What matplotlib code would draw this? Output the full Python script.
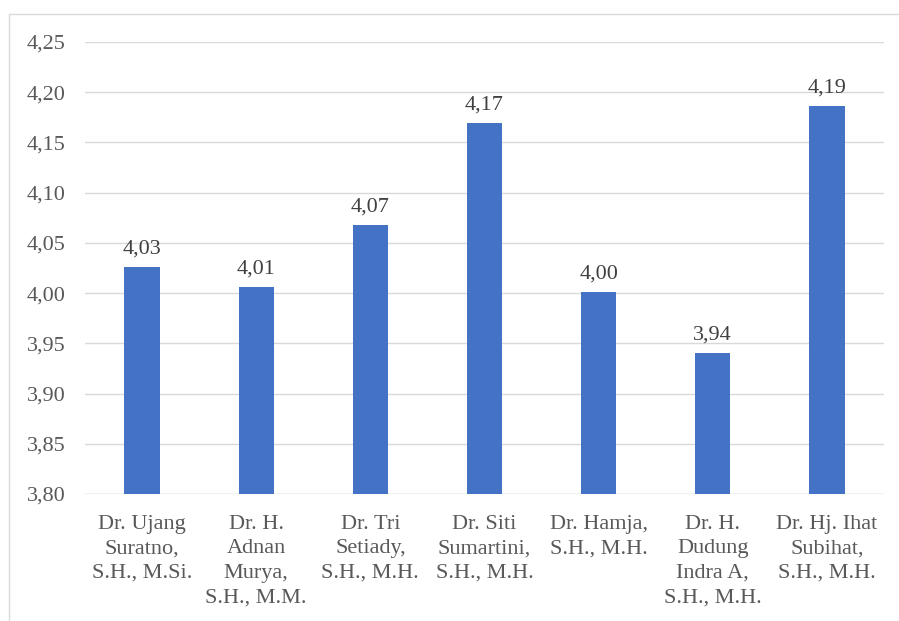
import matplotlib
matplotlib.use("Agg")
import matplotlib.pyplot as plt
from matplotlib.patches import Rectangle
from matplotlib.ticker import FixedLocator, FuncFormatter

# data
names = [
    "Dr. Ujang\nSuratno,\nS.H., M.Si.",
    "Dr. H.\nAdnan\nMurya,\nS.H., M.M.",
    "Dr. Tri\nSetiady,\nS.H., M.H.",
    "Dr. Siti\nSumartini,\nS.H., M.H.",
    "Dr. Hamja,\nS.H., M.H.",
    "Dr. H.\nDudung\nIndra A,\nS.H., M.H.",
    "Dr. Hj. Ihat\nSubihat,\nS.H., M.H.",
]
scores = [4.026, 4.006, 4.068, 4.169, 4.001, 3.940, 4.186]
yticks = [3.80, 3.85, 3.90, 3.95, 4.00, 4.05, 4.10, 4.15, 4.20, 4.25]

plt.rcParams["font.family"] = ["Liberation Serif", "DejaVu Serif"]
txt_col = "#595959"
grid_col = "#d9d9d9"
fs = 16

fig = plt.figure(figsize=(8.99, 6.21), dpi=100)
fig.patches.append(Rectangle((9 / 899, -0.1), 1.2, (621 - 14) / 621 + 0.1,
                             transform=fig.transFigure, fill=False,
                             edgecolor=grid_col, linewidth=1.0))
ax = fig.add_axes([85 / 899, (621 - 494) / 621, 799 / 899, 452 / 621])

x = range(len(names))
bars = ax.bar(x, scores, width=0.31, color="#4472C4", zorder=3)
for b, v in zip(bars, scores):
    ax.annotate(f"{v:.2f}".replace(".", ","), (b.get_x() + b.get_width() / 2, v),
                xytext=(0, 6), textcoords="offset points", ha="center", va="bottom",
                fontsize=fs, color="#404040")

ax.set_xlim(-0.5, len(names) - 0.5)
ax.set_ylim(3.80, 4.25)
ax.yaxis.set_major_locator(FixedLocator(yticks))
ax.yaxis.set_major_formatter(FuncFormatter(lambda v, p: f"{v:.2f}".replace(".", ",")))
ax.set_xticks(list(x))
ax.set_xticklabels(names, fontsize=fs, color=txt_col, linespacing=1.4, va="top")
ax.tick_params(axis="y", labelsize=fs, labelcolor=txt_col, length=0, pad=14)
ax.tick_params(axis="x", length=0, pad=15)
ax.grid(axis="y", color=grid_col, linewidth=1.0, zorder=0)
for s in ax.spines.values():
    s.set_visible(False)
ax.axhline(3.80, color=grid_col, linewidth=1.0, zorder=1)

fig.savefig("out.png", dpi=100)
